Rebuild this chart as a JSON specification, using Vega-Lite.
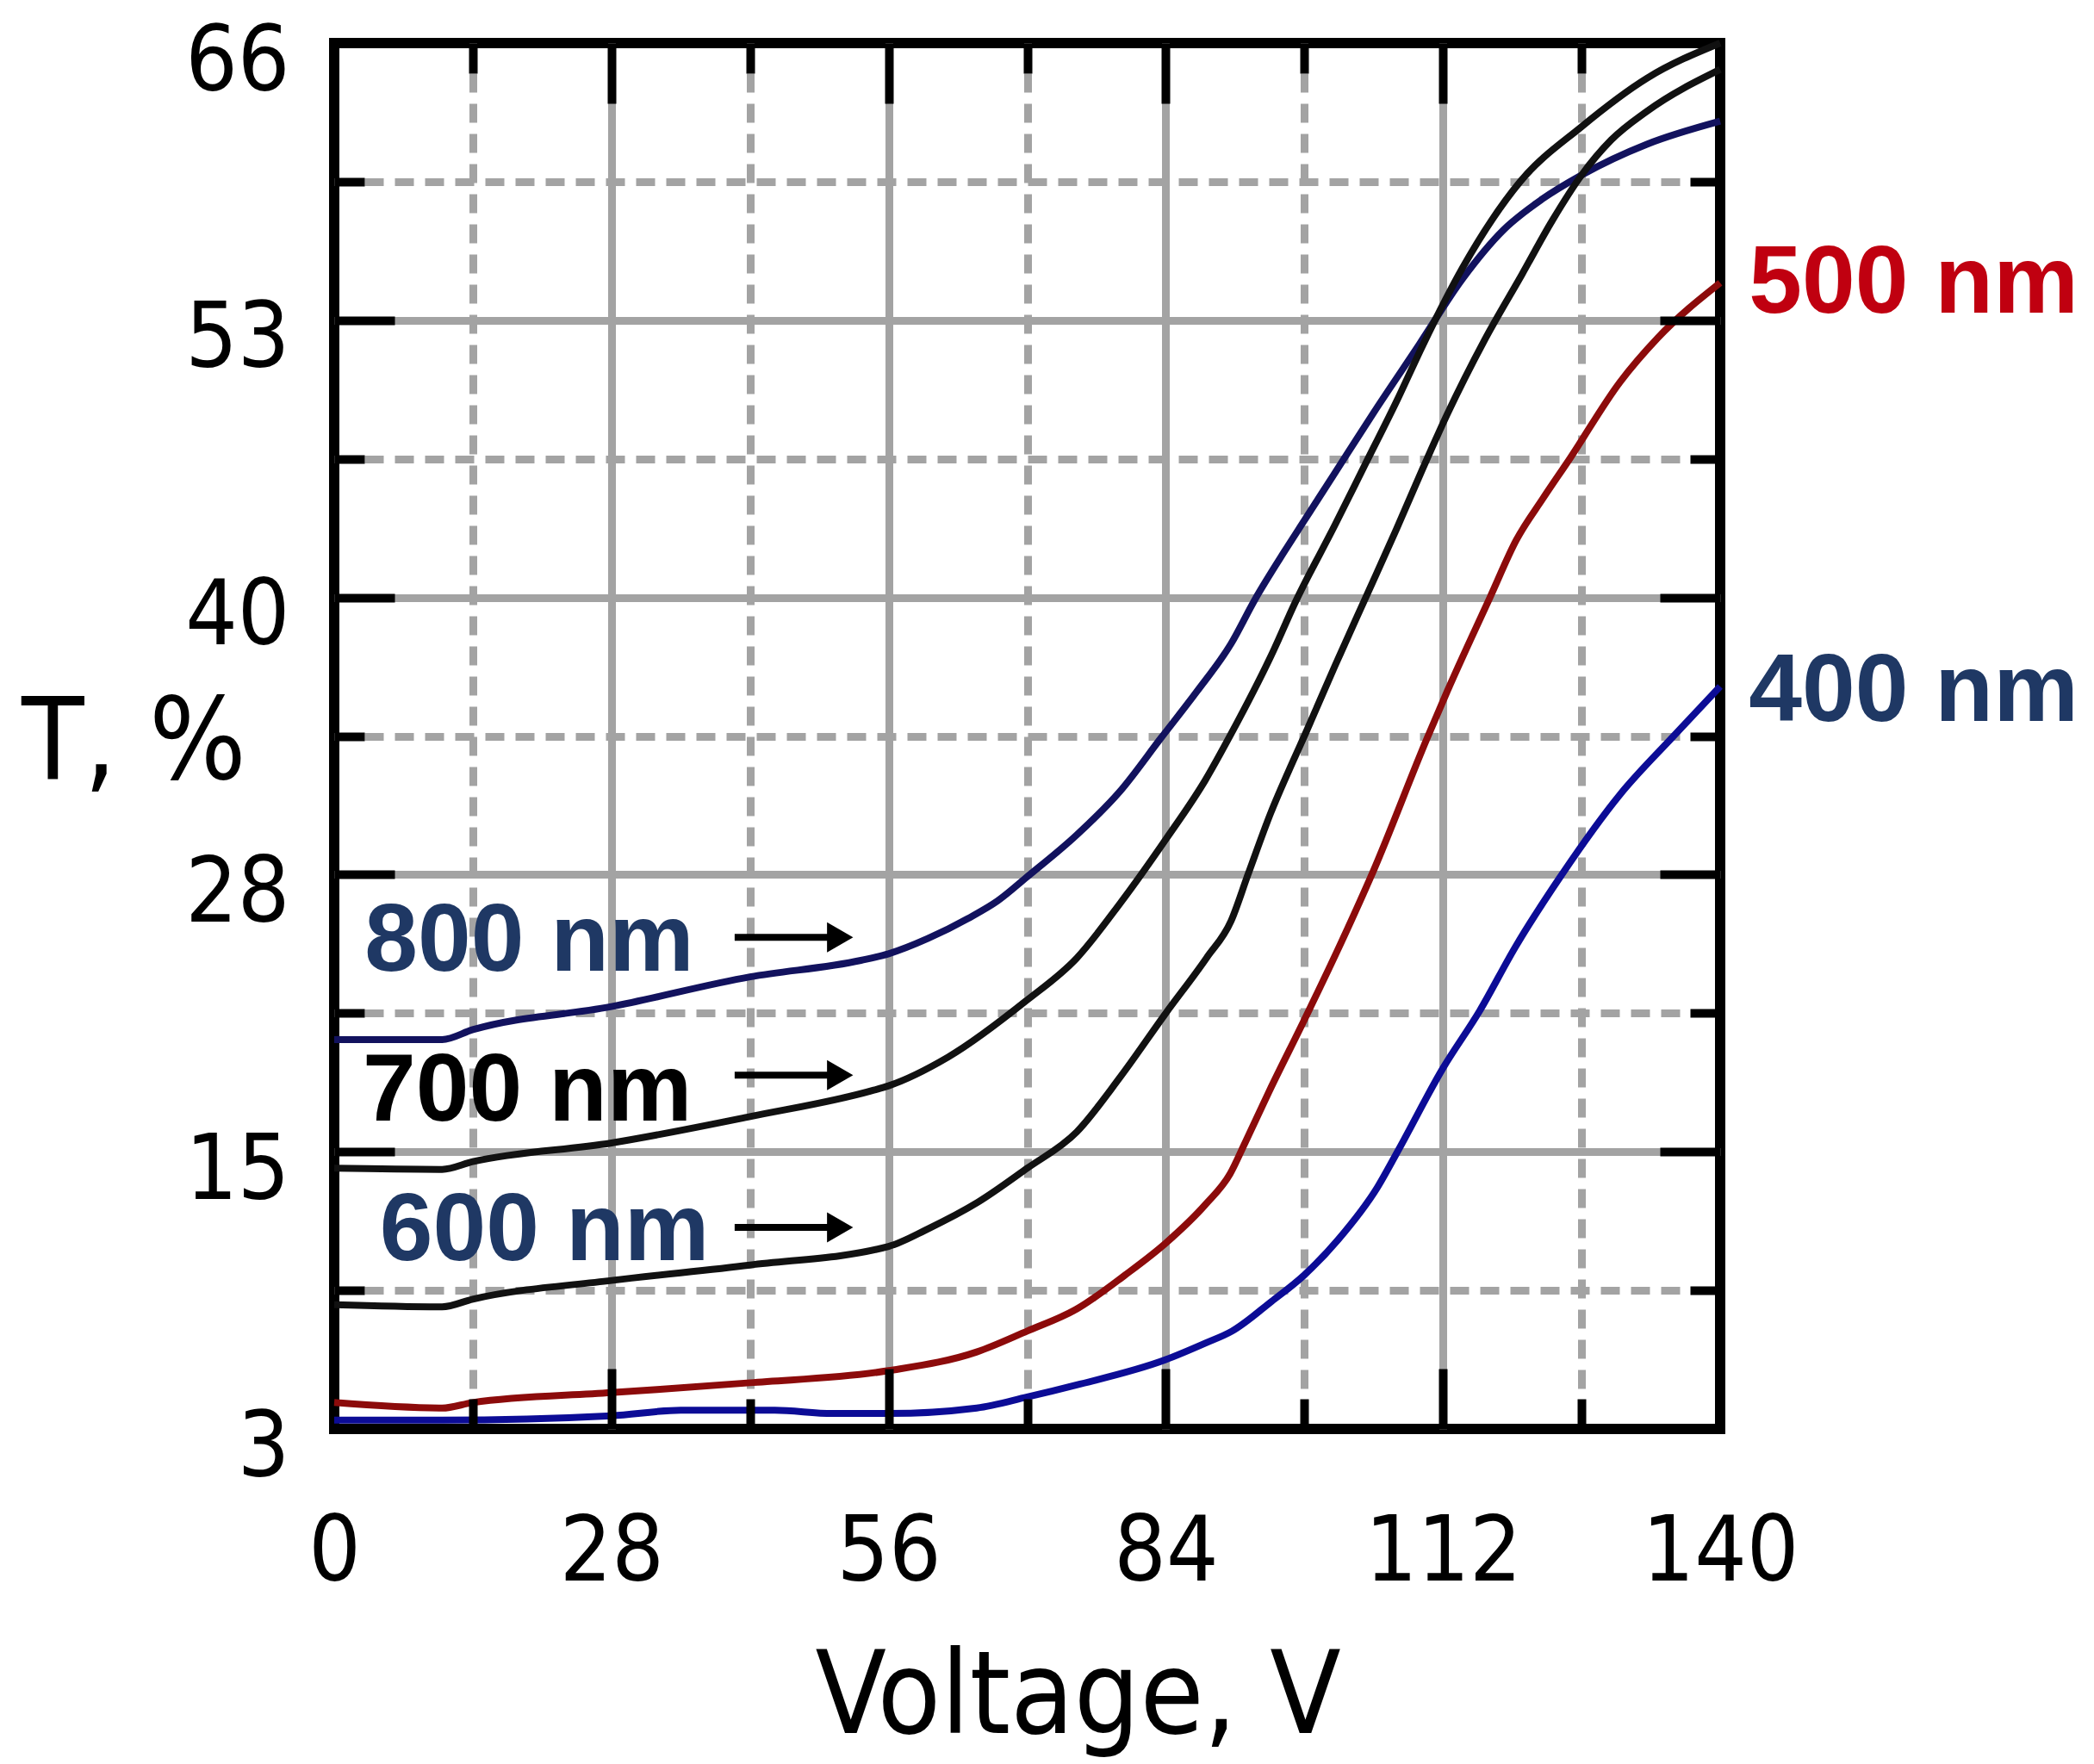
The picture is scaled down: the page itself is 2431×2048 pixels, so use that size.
{
  "$schema": "https://vega.github.io/schema/vega-lite/v6.json",
  "width": 1609,
  "height": 1609,
  "autosize": {"type": "none"},
  "padding": {"left": 388, "top": 50, "right": 434, "bottom": 389},
  "background": "white",
  "config": {"view": {"stroke": "#000000", "strokeWidth": 12}},
  "datasets": {
    "curves": [
      {"series": "800 nm", "V": 0, "T": 20.7}, {"series": "800 nm", "V": 10.9, "T": 20.7}, {"series": "800 nm", "V": 14, "T": 21.15}, {"series": "800 nm", "V": 28, "T": 22.2}, {"series": "800 nm", "V": 42, "T": 23.55}, {"series": "800 nm", "V": 53.2, "T": 24.3}, {"series": "800 nm", "V": 56, "T": 24.6}, {"series": "800 nm", "V": 60, "T": 25.3}, {"series": "800 nm", "V": 64, "T": 26.2}, {"series": "800 nm", "V": 67, "T": 27.0}, {"series": "800 nm", "V": 70, "T": 28.1}, {"series": "800 nm", "V": 75, "T": 30.0}, {"series": "800 nm", "V": 79.4, "T": 32.0}, {"series": "800 nm", "V": 83.5, "T": 34.4}, {"series": "800 nm", "V": 87.1, "T": 36.5}, {"series": "800 nm", "V": 90.6, "T": 38.7}, {"series": "800 nm", "V": 93, "T": 40.7}, {"series": "800 nm", "V": 96, "T": 42.9}, {"series": "800 nm", "V": 98, "T": 44.3}, {"series": "800 nm", "V": 101, "T": 46.4}, {"series": "800 nm", "V": 105, "T": 49.2}, {"series": "800 nm", "V": 109.6, "T": 52.3}, {"series": "800 nm", "V": 114, "T": 55.3}, {"series": "800 nm", "V": 118.1, "T": 57.5}, {"series": "800 nm", "V": 122, "T": 58.9}, {"series": "800 nm", "V": 126, "T": 60.0}, {"series": "800 nm", "V": 132.6, "T": 61.4}, {"series": "800 nm", "V": 140, "T": 62.45},
      {"series": "700 nm", "V": 0, "T": 14.85}, {"series": "700 nm", "V": 10.9, "T": 14.8}, {"series": "700 nm", "V": 14, "T": 15.15}, {"series": "700 nm", "V": 28, "T": 16.0}, {"series": "700 nm", "V": 42, "T": 17.2}, {"series": "700 nm", "V": 54.5, "T": 18.4}, {"series": "700 nm", "V": 56, "T": 18.6}, {"series": "700 nm", "V": 62, "T": 19.9}, {"series": "700 nm", "V": 70, "T": 22.5}, {"series": "700 nm", "V": 75, "T": 24.4}, {"series": "700 nm", "V": 79.4, "T": 26.9}, {"series": "700 nm", "V": 84, "T": 29.8}, {"series": "700 nm", "V": 88, "T": 32.5}, {"series": "700 nm", "V": 90.6, "T": 34.6}, {"series": "700 nm", "V": 94.9, "T": 38.4}, {"series": "700 nm", "V": 97, "T": 40.5}, {"series": "700 nm", "V": 101.1, "T": 44.1}, {"series": "700 nm", "V": 104.2, "T": 46.9}, {"series": "700 nm", "V": 107.3, "T": 49.7}, {"series": "700 nm", "V": 110, "T": 52.3}, {"series": "700 nm", "V": 114, "T": 55.8}, {"series": "700 nm", "V": 119.8, "T": 59.7}, {"series": "700 nm", "V": 126, "T": 62.2}, {"series": "700 nm", "V": 132.6, "T": 64.4}, {"series": "700 nm", "V": 140, "T": 66},
      {"series": "600 nm", "V": 0, "T": 8.65}, {"series": "600 nm", "V": 10.9, "T": 8.55}, {"series": "600 nm", "V": 14, "T": 8.9}, {"series": "600 nm", "V": 28, "T": 9.75}, {"series": "600 nm", "V": 42, "T": 10.45}, {"series": "600 nm", "V": 56, "T": 11.3}, {"series": "600 nm", "V": 60, "T": 12.1}, {"series": "600 nm", "V": 65, "T": 13.3}, {"series": "600 nm", "V": 70, "T": 14.85}, {"series": "600 nm", "V": 75, "T": 16.5}, {"series": "600 nm", "V": 79.4, "T": 19.0}, {"series": "600 nm", "V": 84, "T": 21.9}, {"series": "600 nm", "V": 88.1, "T": 24.4}, {"series": "600 nm", "V": 90.6, "T": 26.1}, {"series": "600 nm", "V": 92.3, "T": 28.2}, {"series": "600 nm", "V": 94.6, "T": 31.0}, {"series": "600 nm", "V": 96.8, "T": 33.3}, {"series": "600 nm", "V": 98, "T": 34.5}, {"series": "600 nm", "V": 101.1, "T": 37.7}, {"series": "600 nm", "V": 104.2, "T": 40.8}, {"series": "600 nm", "V": 107.3, "T": 43.9}, {"series": "600 nm", "V": 110, "T": 46.7}, {"series": "600 nm", "V": 112.4, "T": 49.1}, {"series": "600 nm", "V": 116.2, "T": 52.5}, {"series": "600 nm", "V": 120, "T": 55.5}, {"series": "600 nm", "V": 123, "T": 57.9}, {"series": "600 nm", "V": 126, "T": 60.0}, {"series": "600 nm", "V": 129, "T": 61.6}, {"series": "600 nm", "V": 132.6, "T": 62.9}, {"series": "600 nm", "V": 140, "T": 64.8},
      {"series": "500 nm", "V": 0, "T": 4.2}, {"series": "500 nm", "V": 10.9, "T": 3.95}, {"series": "500 nm", "V": 14, "T": 4.2}, {"series": "500 nm", "V": 28, "T": 4.65}, {"series": "500 nm", "V": 42, "T": 5.1}, {"series": "500 nm", "V": 56, "T": 5.65}, {"series": "500 nm", "V": 64.9, "T": 6.5}, {"series": "500 nm", "V": 70, "T": 7.45}, {"series": "500 nm", "V": 75, "T": 8.45}, {"series": "500 nm", "V": 79.9, "T": 10.0}, {"series": "500 nm", "V": 84, "T": 11.45}, {"series": "500 nm", "V": 88, "T": 13.2}, {"series": "500 nm", "V": 90.5, "T": 14.6}, {"series": "500 nm", "V": 92, "T": 16.0}, {"series": "500 nm", "V": 94.5, "T": 18.4}, {"series": "500 nm", "V": 98, "T": 21.6}, {"series": "500 nm", "V": 101.5, "T": 24.9}, {"series": "500 nm", "V": 105, "T": 28.4}, {"series": "500 nm", "V": 110.4, "T": 34.4}, {"series": "500 nm", "V": 112.4, "T": 36.5}, {"series": "500 nm", "V": 116.8, "T": 40.85}, {"series": "500 nm", "V": 119.4, "T": 43.4}, {"series": "500 nm", "V": 122.1, "T": 45.3}, {"series": "500 nm", "V": 124.8, "T": 47.1}, {"series": "500 nm", "V": 129.9, "T": 50.6}, {"series": "500 nm", "V": 133.7, "T": 52.6}, {"series": "500 nm", "V": 140, "T": 55.1},
      {"series": "400 nm", "V": 0, "T": 3.4}, {"series": "400 nm", "V": 10.9, "T": 3.4}, {"series": "400 nm", "V": 28, "T": 3.6}, {"series": "400 nm", "V": 35, "T": 3.85}, {"series": "400 nm", "V": 44.5, "T": 3.85}, {"series": "400 nm", "V": 50.3, "T": 3.7}, {"series": "400 nm", "V": 56, "T": 3.7}, {"series": "400 nm", "V": 64.9, "T": 3.95}, {"series": "400 nm", "V": 70, "T": 4.45}, {"series": "400 nm", "V": 75, "T": 5.0}, {"series": "400 nm", "V": 84, "T": 6.15}, {"series": "400 nm", "V": 88, "T": 6.9}, {"series": "400 nm", "V": 90.7, "T": 7.45}, {"series": "400 nm", "V": 94.7, "T": 8.8}, {"series": "400 nm", "V": 98, "T": 10.0}, {"series": "400 nm", "V": 101.4, "T": 11.6}, {"series": "400 nm", "V": 105.4, "T": 14.0}, {"series": "400 nm", "V": 107.4, "T": 15.6}, {"series": "400 nm", "V": 112, "T": 19.4}, {"series": "400 nm", "V": 115.7, "T": 22.0}, {"series": "400 nm", "V": 119.3, "T": 24.9}, {"series": "400 nm", "V": 124, "T": 28.2}, {"series": "400 nm", "V": 129.9, "T": 31.85}, {"series": "400 nm", "V": 135.3, "T": 34.5}, {"series": "400 nm", "V": 140, "T": 36.75}
    ],
    "leftLabels": [
      {"label": "800 nm", "V": 3.07, "T": 23.84},
      {"label": "700 nm", "V": 2.87, "T": 17.0},
      {"label": "600 nm", "V": 4.6, "T": 10.66}
    ],
    "rightLabels": [
      {"label": "500 nm", "V": 142.9, "T": 53.75},
      {"label": "400 nm", "V": 142.9, "T": 35.2}
    ],
    "arrows": [
      {"V": 40.45, "V2": 50.3, "Vh": 51.1, "T": 25.35},
      {"V": 40.45, "V2": 50.3, "Vh": 51.1, "T": 19.08},
      {"V": 40.45, "V2": 50.3, "Vh": 51.1, "T": 12.16}
    ]
  },
  "resolve": {
    "scale": {"color": "independent"},
    "axis": {"x": "independent", "y": "independent"}
  },
  "layer": [
    {
      "data": {"name": "curves"},
      "transform": [{"filter": {"field": "series", "oneOf": ["800 nm", "500 nm", "400 nm"]}}],
      "mark": {"type": "line", "strokeWidth": 8, "interpolate": "monotone"},
      "encoding": {
        "x": {
          "field": "V", "type": "quantitative",
          "scale": {"domain": [0, 140], "nice": false, "zero": false},
          "axis": {
            "orient": "bottom", "values": [0, 28, 56, 84, 112, 140],
            "ticks": false, "domain": false, "grid": true,
            "gridColor": {"condition": {"test": "datum.value <= 0 || datum.value >= 140", "value": "transparent"}, "value": "#a3a3a3"},
            "gridWidth": 9,
            "labelFont": "DejaVu Sans Condensed, DejaVu Sans", "labelFontSize": 106, "labelColor": "#000000", "labelLimit": 600,
            "labelPadding": 91, "labelBaseline": "top", "labelAlign": "center", "labelFlush": false, "labelOverlap": false,
            "title": "Voltage, V", "titleFont": "DejaVu Sans Condensed, DejaVu Sans", "titleFontSize": 134, "titleFontWeight": "normal", "titleColor": "#000000", "titleLimit": 1200,
            "titleX": 863, "titleY": 352, "titleAlign": "center", "titleBaseline": "alphabetic",
            "zindex": 0
          }
        },
        "y": {
          "field": "T", "type": "quantitative",
          "scale": {"domain": [3, 66], "nice": false, "zero": false},
          "axis": {
            "orient": "left", "values": [3, 15.6, 28.2, 40.8, 53.4, 66],
            "labelExpr": "'' + floor(datum.value)",
            "ticks": false, "domain": false, "grid": true,
            "gridColor": {"condition": {"test": "datum.value <= 3 || datum.value >= 66", "value": "transparent"}, "value": "#a3a3a3"},
            "gridWidth": 9,
            "labelFont": "DejaVu Sans Condensed, DejaVu Sans", "labelFontSize": 106, "labelColor": "#000000", "labelLimit": 600,
            "labelPadding": 52, "labelBaseline": "middle", "labelAlign": "right", "labelOffset": 22, "labelFlush": false, "labelOverlap": false,
            "title": "T, %", "titleFont": "DejaVu Sans Condensed, DejaVu Sans", "titleFontSize": 132, "titleFontWeight": "normal", "titleColor": "#000000", "titleLimit": 1000,
            "titleAngle": 0, "titleX": -233, "titleY": 853, "titleAlign": "center", "titleBaseline": "alphabetic",
            "zindex": 0
          }
        },
        "color": {
          "field": "series", "type": "nominal",
          "scale": {"domain": ["800 nm", "500 nm", "400 nm"], "range": ["#12125e", "#8c0b0b", "#0c0c96"]},
          "legend": null
        }
      }
    },
    {
      "data": {"name": "curves"},
      "transform": [{"filter": {"field": "series", "oneOf": ["700 nm", "600 nm"]}}],
      "mark": {"type": "line", "strokeWidth": 8, "interpolate": "monotone", "color": "#111111"},
      "encoding": {
        "x": {
          "field": "V", "type": "quantitative",
          "scale": {"domain": [0, 140], "nice": false, "zero": false},
          "axis": {
            "orient": "bottom", "values": [14, 42, 70, 98, 126],
            "ticks": false, "domain": false, "labels": false, "grid": true,
            "gridColor": "#a3a3a3", "gridWidth": 9, "gridDash": [22, 13], "title": null, "zindex": 0
          }
        },
        "y": {
          "field": "T", "type": "quantitative",
          "scale": {"domain": [3, 66], "nice": false, "zero": false},
          "axis": {
            "orient": "left", "values": [9.3, 21.9, 34.5, 47.1, 59.7],
            "ticks": false, "domain": false, "labels": false, "grid": true,
            "gridColor": "#a3a3a3", "gridWidth": 9, "gridDash": [22, 13], "title": null, "zindex": 0
          }
        },
        "detail": {"field": "series", "type": "nominal"}
      }
    },
    {
      "data": {"name": "leftLabels"},
      "mark": {"type": "text", "font": "Liberation Sans", "fontWeight": "bold", "fontSize": 111, "align": "left", "baseline": "alphabetic"},
      "encoding": {
        "x": {
          "field": "V", "type": "quantitative",
          "scale": {"domain": [0, 140], "nice": false, "zero": false},
          "axis": {
            "orient": "bottom", "values": [28, 56, 84, 112], "offset": -70,
            "ticks": true, "tickSize": 70, "tickWidth": 10, "tickColor": "#000000",
            "domain": false, "labels": false, "grid": false, "title": null, "zindex": 1
          }
        },
        "y": {
          "field": "T", "type": "quantitative",
          "scale": {"domain": [3, 66], "nice": false, "zero": false},
          "axis": {
            "orient": "left", "values": [15.6, 28.2, 40.8, 53.4], "offset": -70,
            "ticks": true, "tickSize": 70, "tickWidth": 10, "tickColor": "#000000",
            "domain": false, "labels": false, "grid": false, "title": null, "zindex": 1
          }
        },
        "text": {"field": "label"},
        "color": {
          "field": "label", "type": "nominal",
          "scale": {"domain": ["800 nm", "700 nm", "600 nm"], "range": ["#1f3864", "#000000", "#1f3864"]},
          "legend": null
        }
      }
    },
    {
      "data": {"name": "rightLabels"},
      "mark": {"type": "text", "font": "Liberation Sans", "fontWeight": "bold", "fontSize": 111, "align": "left", "baseline": "alphabetic"},
      "encoding": {
        "x": {
          "field": "V", "type": "quantitative",
          "scale": {"domain": [0, 140], "nice": false, "zero": false},
          "axis": {
            "orient": "bottom", "values": [14, 42, 70, 98, 126], "offset": -35,
            "ticks": true, "tickSize": 35, "tickWidth": 10, "tickColor": "#000000",
            "domain": false, "labels": false, "grid": false, "title": null, "zindex": 1
          }
        },
        "y": {
          "field": "T", "type": "quantitative",
          "scale": {"domain": [3, 66], "nice": false, "zero": false},
          "axis": {
            "orient": "left", "values": [9.3, 21.9, 34.5, 47.1, 59.7], "offset": -35,
            "ticks": true, "tickSize": 35, "tickWidth": 10, "tickColor": "#000000",
            "domain": false, "labels": false, "grid": false, "title": null, "zindex": 1
          }
        },
        "text": {"field": "label"},
        "color": {
          "field": "label", "type": "nominal",
          "scale": {"domain": ["500 nm", "400 nm"], "range": ["#c00010", "#1f3864"]},
          "legend": null
        }
      }
    },
    {
      "data": {"name": "arrows"},
      "mark": {"type": "rule", "strokeWidth": 8, "color": "#000000"},
      "encoding": {
        "x": {
          "field": "V", "type": "quantitative",
          "scale": {"domain": [0, 140], "nice": false, "zero": false},
          "axis": {
            "orient": "top", "values": [28, 56, 84, 112], "offset": -70,
            "ticks": true, "tickSize": 70, "tickWidth": 10, "tickColor": "#000000",
            "domain": false, "labels": false, "grid": false, "title": null, "zindex": 1
          }
        },
        "x2": {"field": "V2"},
        "y": {
          "field": "T", "type": "quantitative",
          "scale": {"domain": [3, 66], "nice": false, "zero": false},
          "axis": {
            "orient": "right", "values": [15.6, 28.2, 40.8, 53.4], "offset": -70,
            "ticks": true, "tickSize": 70, "tickWidth": 10, "tickColor": "#000000",
            "domain": false, "labels": false, "grid": false, "title": null, "zindex": 1
          }
        }
      }
    },
    {
      "data": {"name": "arrows"},
      "mark": {"type": "point", "shape": "triangle-right", "filled": true, "size": 1225, "color": "#000000", "opacity": 1},
      "encoding": {
        "x": {
          "field": "Vh", "type": "quantitative",
          "scale": {"domain": [0, 140], "nice": false, "zero": false},
          "axis": {
            "orient": "top", "values": [14, 42, 70, 98, 126], "offset": -35,
            "ticks": true, "tickSize": 35, "tickWidth": 10, "tickColor": "#000000",
            "domain": false, "labels": false, "grid": false, "title": null, "zindex": 1
          }
        },
        "y": {
          "field": "T", "type": "quantitative",
          "scale": {"domain": [3, 66], "nice": false, "zero": false},
          "axis": {
            "orient": "right", "values": [9.3, 21.9, 34.5, 47.1, 59.7], "offset": -35,
            "ticks": true, "tickSize": 35, "tickWidth": 10, "tickColor": "#000000",
            "domain": false, "labels": false, "grid": false, "title": null, "zindex": 1
          }
        }
      }
    }
  ]
}
